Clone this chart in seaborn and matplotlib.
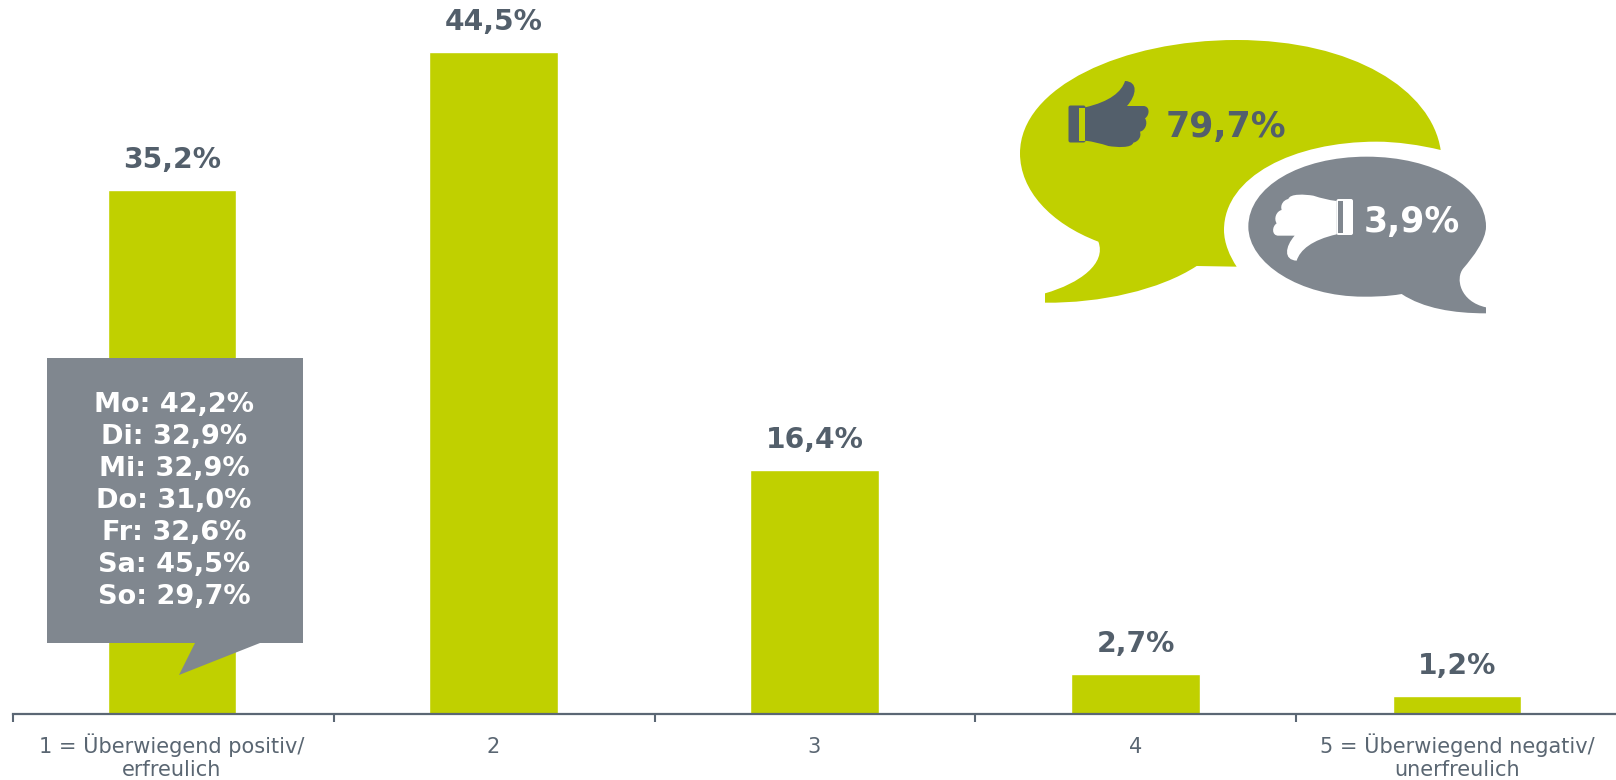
import pandas as pd
import seaborn as sns
from matplotlib import pyplot as plt
from matplotlib.path import Path
from matplotlib.patches import PathPatch, FancyBboxPatch, Rectangle, Polygon

categories = ['1 = Überwiegend positiv/\nerfreulich', '2', '3', '4', '5 = Überwiegend negativ/\nunerfreulich']
values = [35.2, 44.5, 16.4, 2.7, 1.2]
days = ['Mo', 'Di', 'Mi', 'Do', 'Fr', 'Sa', 'So']
day_values = [42.2, 32.9, 32.9, 31.0, 32.6, 45.5, 29.7]
top_two = 79.7
bottom_two = 3.9

green = '#c0d000'
grey = '#80878f'
dark = '#535f6b'
axis_col = '#5b6774'


def pct(v):
    return f'{v:.1f}%'.replace('.', ',')


sns.set_style('white')
plt.rcParams['font.family'] = ['DejaVu Sans']

W, H = 1616, 780
fig = plt.figure(figsize=(W / 100, H / 100), dpi=100)
ax = fig.add_axes([13 / W, (H - 714) / H, (W - 13) / W, 714 / H])

df = pd.DataFrame({'category': categories, 'value': values})
sns.barplot(data=df, x='category', y='value', color=green, saturation=1, width=0.4, ax=ax)
ax.set_xlim(-0.495, 4.495)
ax.set_ylim(0, 47.98)
ax.set_xlabel('')
ax.set_ylabel('')
ax.set_yticks([])
sns.despine(ax=ax, left=True)
ax.spines['bottom'].set_color(axis_col)
ax.spines['bottom'].set_linewidth(1.6)

# ticks between the categories, labels in the middle
# baseline alignment uses the last line, so every label gets two lines
tick_text = [c if '\n' in c else c + '\n ' for c in categories]
ax.set_xticks([-0.495, 0.503, 1.502, 2.5, 3.498])
ax.set_xticklabels([])
ax.set_xticks(range(5), tick_text, minor=True, fontsize=15, color='#5a6672', linespacing=1.2, va='baseline')
ax.tick_params(axis='x', which='major', bottom=True, length=5.5, width=1.5, color=axis_col, direction='out')
ax.tick_params(axis='x', which='minor', bottom=False, length=0, pad=44.7)

ax.bar_label(ax.containers[0], labels=[pct(v) for v in values], padding=11.5,
             fontsize=20.3, fontweight='bold', color=dark)

# overlay in reference pixels for the bubbles and the callout
ov = fig.add_axes([0, 0, 1, 1], facecolor='none')
ov.set_xlim(0, W)
ov.set_ylim(H, 0)
ov.axis('off')


def zx(x):
    return 1000 + x / 3


def zy(y):
    return 20 + y / 3


def curve(start, segs, color, zorder=2):
    verts = [start]
    codes = [Path.MOVETO]
    for s in segs:
        if len(s) == 1:
            codes.append(Path.LINETO)
        else:
            codes += [Path.CURVE4] * 3
        verts += s
    pts = [(zx(a), zy(b)) for a, b in verts]
    ov.add_patch(PathPatch(Path(pts, codes), fc=color, ec='none', zorder=zorder))


curve((135, 820), [
    [(240, 790), (320, 730), (295, 665)],
    [(150, 610), (60, 510), (60, 400)],
    [(60, 200), (370, 60), (710, 60)],
    [(1060, 60), (1295, 210), (1322, 390)],
    [(1260, 375), (1190, 365), (1130, 365)],
    [(880, 365), (672, 470), (672, 630)],
    [(672, 670), (690, 710), (710, 740)],
    [(590, 738)],
    [(480, 810), (300, 850), (135, 848)],
    [(135, 820)],
], green)

curve((1100, 410), [
    [(1300, 410), (1458, 500), (1458, 620)],
    [(1458, 660), (1420, 710), (1390, 745)],
    [(1365, 775), (1380, 845), (1458, 862)],
    [(1458, 880)],
    [(1360, 880), (1270, 865), (1205, 822)],
    [(1160, 830), (1120, 830), (1090, 830)],
    [(900, 830), (745, 730), (745, 620)],
    [(745, 500), (900, 410), (1100, 410)],
], grey)

hand = [
    [(330, 245), (365, 215), (375, 183)],
    [(415, 185), (410, 225), (381, 258)],
    [(430, 258)],
    [(450, 258), (450, 285), (435, 295)],
    [(445, 310), (435, 332), (420, 335)],
    [(425, 350), (415, 365), (400, 368)],
    [(395, 385), (350, 382), (325, 378)],
    [(300, 370), (280, 365), (255, 362)],
    [(255, 262)],
]
curve((255, 262), hand, dark, zorder=3)
ov.add_patch(FancyBboxPatch((1070.5, 107.5), 13, 33, boxstyle='round,pad=2', fc=dark, ec='none', zorder=3))
ov.add_patch(Rectangle((1079, 108), 6, 33, fc=green, ec='none', zorder=4))


def flip(p):
    return (1265 - p[0], 905 - p[1])


curve(flip((255, 262)), [[flip(p) for p in s] for s in hand], 'white', zorder=3)
ov.add_patch(FancyBboxPatch((1338.5, 201), 12.5, 32, boxstyle='round,pad=2', fc='white', ec='none', zorder=3))
ov.add_patch(Rectangle((1337.5, 200.5), 5.5, 32.5, fc=grey, ec='none', zorder=4))

ov.text(1226, 127, pct(top_two), fontsize=25, fontweight='bold', color=dark, ha='center', va='center', zorder=5)
ov.text(1412, 222, pct(bottom_two), fontsize=25, fontweight='bold', color='white', ha='center', va='center', zorder=5)

# callout over the first bar
ov.add_patch(Rectangle((47, 358), 256, 285, fc=grey, ec='none', zorder=6))
ov.add_patch(Polygon([(195, 643), (179, 675), (260, 643)], fc=grey, ec='none', zorder=6))
for i, (d, v) in enumerate(zip(days, day_values)):
    ov.text(174, 405 + i * 32, f'{d}: {pct(v)}', fontsize=19.5, fontweight='bold', color='white',
            ha='center', va='center', zorder=7)

fig.savefig('out.png', dpi=100)
